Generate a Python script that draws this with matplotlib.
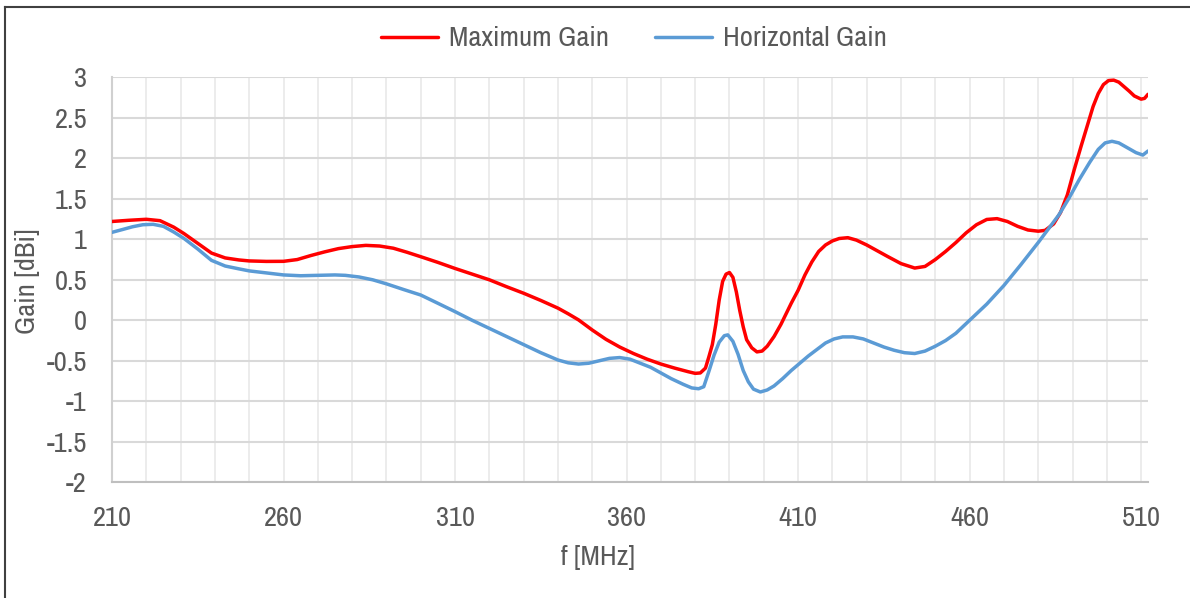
import matplotlib
matplotlib.use("Agg")
import matplotlib.pyplot as plt
from matplotlib.lines import Line2D

# frequency [MHz] and gain [dBi]
f_max = [210, 215, 220, 224, 228, 231, 235, 239, 243, 247, 250, 255, 260, 264, 268,
         272, 276, 280, 284, 288, 292, 296, 300, 305, 310, 315, 320, 325, 330, 335,
         340, 343, 346, 350, 354, 358, 362, 366, 370, 374, 378, 380, 381.5, 383, 384,
         385, 386, 387, 388, 389, 390, 391, 392, 393, 394, 395, 396.5, 398, 399.5, 401,
         403, 405, 408, 410, 412, 414, 416, 418, 420, 422, 424.5, 427, 430, 433, 436,
         440, 444, 447, 450, 453, 456, 459, 462, 465, 468, 471, 474, 477, 480, 482,
         484.5, 486.5, 488.5, 490.5, 492.5, 494.5, 496, 497.5, 499, 500.5, 502, 503.5,
         505, 506.5, 508, 510, 511, 512]
g_max = [1.22, 1.235, 1.247, 1.23, 1.15, 1.07, 0.95, 0.83, 0.77, 0.745, 0.733, 0.727,
         0.728, 0.75, 0.8, 0.845, 0.885, 0.91, 0.925, 0.917, 0.89, 0.84, 0.785, 0.715,
         0.64, 0.57, 0.5, 0.415, 0.334, 0.245, 0.15, 0.08, 0.005, -0.12, -0.235, -0.33,
         -0.41, -0.48, -0.54, -0.59, -0.635, -0.655, -0.65, -0.59, -0.45, -0.3, -0.05,
         0.25, 0.48, 0.57, 0.59, 0.53, 0.35, 0.12, -0.08, -0.24, -0.34, -0.39, -0.38,
         -0.32, -0.2, -0.05, 0.21, 0.37, 0.56, 0.72, 0.85, 0.93, 0.98, 1.01, 1.02, 0.99,
         0.93, 0.86, 0.79, 0.70, 0.645, 0.665, 0.75, 0.85, 0.96, 1.08, 1.18, 1.245,
         1.255, 1.22, 1.16, 1.115, 1.1, 1.11, 1.19, 1.33, 1.55, 1.86, 2.15, 2.43, 2.64,
         2.80, 2.91, 2.96, 2.965, 2.94, 2.885, 2.83, 2.77, 2.73, 2.74, 2.79]

f_hor = [210, 213, 216, 219, 222, 225, 228, 231, 235, 239, 243, 247, 250, 255, 260,
         265, 270, 275, 278, 282, 286, 290, 295, 300, 305, 310, 315, 320, 325, 330,
         335, 340, 343, 346, 349, 352, 355, 358, 361, 364, 367, 370, 373, 376.5, 379,
         381, 382.5, 384, 385.5, 387, 388.5, 389.5, 391, 392.5, 394, 395.5, 397, 399,
         401, 403, 405.5, 408, 410.5, 413, 415.5, 418, 420.5, 423, 426, 429, 432, 435,
         438, 441, 444, 447, 450, 453, 456, 460, 465, 470, 475, 480, 483, 486, 489,
         492, 495, 497.5, 499.5, 501.5, 503.5, 506, 508.5, 510.5, 512]
g_hor = [1.086, 1.12, 1.155, 1.18, 1.185, 1.16, 1.09, 1.01, 0.88, 0.74, 0.67, 0.635,
         0.61, 0.585, 0.56, 0.55, 0.555, 0.56, 0.555, 0.535, 0.5, 0.45, 0.38, 0.312,
         0.21, 0.107, 0.0, -0.1, -0.2, -0.3, -0.4, -0.49, -0.525, -0.54, -0.53, -0.5,
         -0.47, -0.46, -0.48, -0.53, -0.58, -0.65, -0.72, -0.79, -0.835, -0.845, -0.82,
         -0.63, -0.43, -0.27, -0.19, -0.18, -0.26, -0.42, -0.62, -0.76, -0.85, -0.885,
         -0.86, -0.81, -0.72, -0.62, -0.53, -0.44, -0.36, -0.28, -0.23, -0.205, -0.205,
         -0.23, -0.28, -0.33, -0.37, -0.4, -0.41, -0.38, -0.32, -0.25, -0.16, 0.0, 0.2,
         0.43, 0.69, 0.96, 1.13, 1.3, 1.51, 1.74, 1.95, 2.11, 2.19, 2.21, 2.19, 2.13,
         2.07, 2.04, 2.09]

x_ticks = [210, 260, 310, 360, 410, 460, 510]
y_ticks = [-2, -1.5, -1, -0.5, 0, 0.5, 1, 1.5, 2, 2.5, 3]

plt.rcParams['font.family'] = ['Liberation Sans Narrow', 'Archivo Narrow', 'DejaVu Sans']
txt = '#595959'

fig = plt.figure(figsize=(11.9, 5.98), dpi=100)
ax = fig.add_axes([112/1190, 1 - 482.3/598, (1148-112)/1190, (482.3-77.3)/598])

ax.plot(f_max, g_max, color='#FF0000', lw=2.5, solid_capstyle='round', solid_joinstyle='round',
        label='Maximum Gain', zorder=3)
ax.plot(f_hor, g_hor, color='#5B9BD5', lw=2.5, solid_capstyle='round', solid_joinstyle='round',
        label='Horizontal Gain', zorder=3)

ax.set_xlim(210, 512)
ax.set_ylim(-2, 3)
ax.set_xticks(x_ticks)
ax.set_xticks(range(210, 513, 10), minor=True)
ax.set_yticks(y_ticks)
ax.set_yticklabels([f'{v:g}' for v in y_ticks])
ax.grid(axis='y', which='major', color='#D9D9D9', lw=1.5, zorder=0)
ax.grid(axis='x', which='both', color='#EBEBEB', lw=1.3, zorder=0)
ax.tick_params(axis='both', which='both', length=0, labelsize=20.5, colors=txt)
ax.tick_params(axis='x', pad=17)
ax.tick_params(axis='y', pad=18)

for s in ['top', 'right']:
    ax.spines[s].set_visible(False)
ax.spines['bottom'].set_color('#BFBFBF')
ax.spines['bottom'].set_linewidth(1.5)
ax.spines['left'].set_color('#D0D0D0')
ax.spines['left'].set_linewidth(1.5)

fig.text(27/1190, 1 - 281/598, 'Gain [dBi]', rotation=90, ha='center', va='center',
         fontsize=20.5, color=txt)
fig.text(598/1190, 1 - 557/598, 'f [MHz]', ha='center', va='center', fontsize=20.5, color=txt)

leg = fig.legend(loc='center', bbox_to_anchor=(634/1190, 1 - 39/598), ncol=2, frameon=False,
                 fontsize=20.5, handlelength=2.0, columnspacing=1.6, handletextpad=0.4)
for t in leg.get_texts():
    t.set_color(txt)

# figure border (top and left visible)
fig.add_artist(Line2D([5/1190, 5/1190], [0, 1 - 7/598], color='#404040', lw=1.5))
fig.add_artist(Line2D([5/1190, 1], [1 - 7/598, 1 - 7/598], color='#404040', lw=1.5))

fig.savefig('out.png', dpi=100)
